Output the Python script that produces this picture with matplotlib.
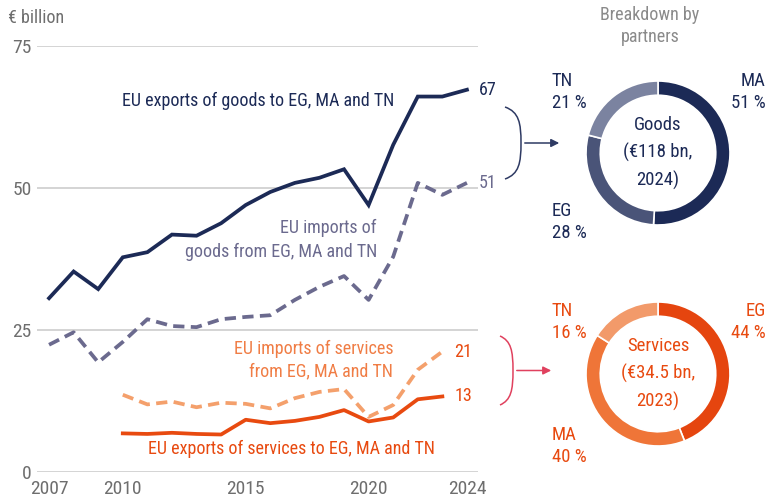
import matplotlib
matplotlib.use("Agg")
from matplotlib import pyplot as plt
from matplotlib import patches as mpatch
from matplotlib.path import Path

plt.rcParams['font.family'] = ['Roboto Condensed', 'Open Sans Condensed', 'DejaVu Sans Condensed',
                               'Liberation Sans Narrow', 'DejaVu Sans']
plt.rcParams['font.stretch'] = 'condensed'

years = list(range(2007, 2025))
svc_years = list(range(2010, 2024))

goods_exports = [30.6, 35.3, 32.2, 37.8, 38.7, 41.8, 41.6, 43.8, 47.0, 49.3,
                 50.9, 51.8, 53.3, 47.0, 57.6, 66.1, 66.1, 67.3]
goods_imports = [22.4, 24.6, 19.3, 22.9, 26.9, 25.7, 25.5, 26.9, 27.3, 27.6,
                 30.3, 32.6, 34.5, 30.3, 37.9, 50.9, 48.8, 50.9]
svc_imports = [13.6, 11.9, 12.4, 11.4, 12.2, 12.0, 11.2, 13.0, 14.1, 14.6,
               9.7, 11.8, 18.0, 21.2]
svc_exports = [6.8, 6.7, 6.9, 6.7, 6.6, 9.2, 8.6, 9.0, 9.7, 10.9,
               8.9, 9.6, 12.8, 13.3]

goods_partners = ['MA', 'EG', 'TN']
goods_shares = [51, 28, 21]
svc_partners = ['EG', 'MA', 'TN']
svc_shares = [44, 40, 16]

NAVY = '#1c2a56'
PURPLE = '#6b6a8e'
LORANGE = '#f4a06c'
RORANGE = '#e84a10'
GREY = '#6e6e6e'
GRID = '#c9c9c9'

W, H = 768, 501
fig = plt.figure(figsize=(W / 100, H / 100), dpi=100)


def box(l, t, r, b):
    # pixel box (top-left origin) -> figure fraction
    return [l / W, 1 - b / H, (r - l) / W, (b - t) / H]


# ---- line chart
ax = fig.add_axes(box(37, 46, 478, 472))
ax.set_xlim(2006.51, 2024.45)
ax.set_ylim(0, 75)
for v in [0, 25, 50, 75]:
    ax.axhline(v, color=GRID, lw=1.1, zorder=0)
ax.plot(years, goods_exports, color=NAVY, lw=2.7, solid_joinstyle='miter')
ax.plot(years, goods_imports, color=PURPLE, lw=2.7, dashes=(3.0, 1.7))
ax.plot(svc_years, svc_imports, color=LORANGE, lw=2.7, dashes=(3.0, 1.7))
ax.plot(svc_years, svc_exports, color=RORANGE, lw=2.7)
for s in ax.spines.values():
    s.set_visible(False)
ax.set_yticks([0, 25, 50, 75])
ax.set_xticks([2007, 2010, 2015, 2020, 2024])
ax.tick_params(length=0, labelsize=14, colors=GREY, pad=4)
ax.tick_params(axis='x', pad=6)

fs = 13
ends = [(years[-1], goods_exports[-1], NAVY), (years[-1], goods_imports[-1], PURPLE),
        (svc_years[-1], svc_imports[-1], RORANGE), (svc_years[-1], svc_exports[-1], RORANGE)]
for x, y, c in ends:
    ax.annotate(str(round(y)), (x, y), xytext=(8.5, 0), textcoords='offset points',
                color=c, fontsize=fs, va='center', ha='left', annotation_clip=False)

# ---- overlay in pixel coordinates
ov = fig.add_axes([0, 0, 1, 1], facecolor='none')
ov.set_xlim(0, W)
ov.set_ylim(H, 0)
ov.axis('off')

ov.text(8, 18, '€ billion', color=GREY, fontsize=13, va='center', ha='left')
ov.text(650, 26, 'Breakdown by\npartners', color='#8a8a8a', fontsize=13, va='center', ha='center', linespacing=1.25)

ov.text(258, 101, 'EU exports of goods to EG, MA and TN', color=NAVY, fontsize=fs, va='center', ha='center')
ov.text(377, 240, 'EU imports of\ngoods from EG, MA and TN', color=PURPLE, fontsize=fs, va='center', ha='right', linespacing=1.45)
ov.text(393, 360, 'EU imports of services\nfrom EG, MA and TN', color='#f07d45', fontsize=fs, va='center', ha='right', linespacing=1.35)
ov.text(291, 449, 'EU exports of services to EG, MA and TN', color=RORANGE, fontsize=fs, va='center', ha='center')


def brace(x0, xp, y0, y1, color):
    ym = (y0 + y1) / 2
    verts = [(x0, y0), (xp - 2, y0 + 5), (xp, ym - 20), (xp, ym),
             (xp, ym + 20), (xp - 2, y1 - 5), (x0, y1)]
    codes = [Path.MOVETO] + [Path.CURVE4] * 6
    ov.add_patch(mpatch.PathPatch(Path(verts, codes), fill=False, edgecolor=color, lw=1.1))
    ov.annotate('', xy=(xp + 41, ym), xytext=(xp + 1, ym),
                arrowprops=dict(arrowstyle='-|>', color=color, lw=1.1, mutation_scale=12))


brace(505, 521, 107, 179, '#2e3a63')
brace(500, 513, 336, 405, '#e0415e')


def donut(cx, cy, shares, colors, center_text, tcolor, labels, label_pos):
    pa = fig.add_axes(box(cx - 75, cy - 75, cx + 75, cy + 75))
    pa.pie(shares, colors=colors, startangle=90, counterclock=False, radius=0.96,
           wedgeprops=dict(width=0.19, edgecolor='white', linewidth=1.2))
    pa.set_xlim(-1, 1)
    pa.set_ylim(-1, 1)
    pa.set_aspect('equal')
    pa.axis('off')
    ov.text(cx, cy, center_text, color=tcolor, fontsize=fs + 0.5, ha='center', va='center', linespacing=1.6)
    for (name, share), (x, y, ha) in zip(zip(labels, shares), label_pos):
        ov.text(x, y, f'{name}\n{share} %', color=tcolor, fontsize=fs + 0.5, ha=ha, va='center', linespacing=1.3)


donut(658, 153, goods_shares, [NAVY, '#4a5478', '#7b83a0'],
      'Goods\n(€118 bn,\n2024)', NAVY, goods_partners,
      [(766, 92, 'right'), (552, 222, 'left'), (552, 92, 'left')])
donut(658, 374, svc_shares, ['#e5450f', '#ef7538', '#f29a6a'],
      'Services\n(€34.5 bn,\n2023)', RORANGE, svc_partners,
      [(766, 322, 'right'), (552, 446, 'left'), (552, 322, 'left')])

fig.savefig('out.png', dpi=100)
